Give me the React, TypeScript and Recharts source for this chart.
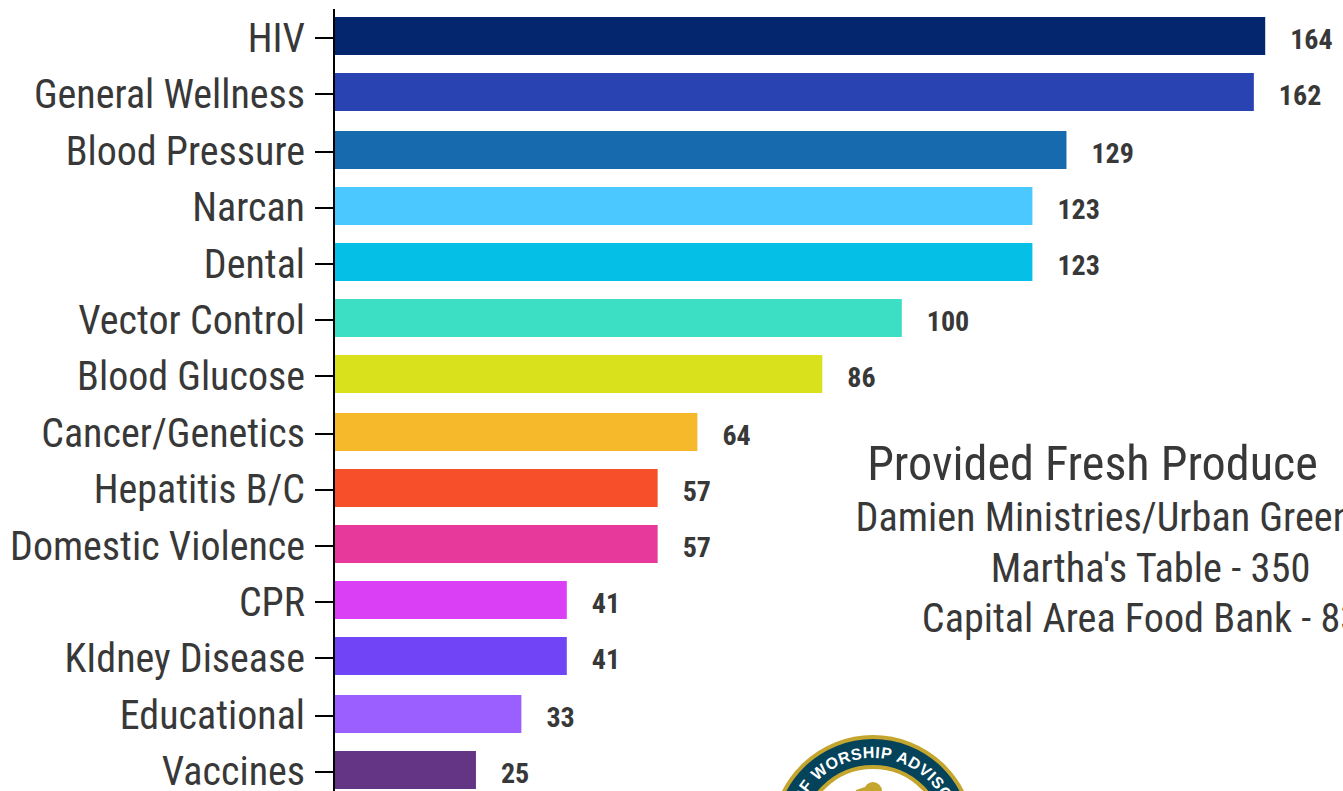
import React from "react";
import { BarChart, Bar, XAxis, YAxis, Cell, LabelList, Rectangle } from "recharts";

const categories = ["HIV","General Wellness","Blood Pressure","Narcan","Dental","Vector Control","Blood Glucose","Cancer/Genetics","Hepatitis B/C","Domestic Violence","CPR","KIdney Disease","Educational","Vaccines"];
const values = [164,162,129,123,123,100,86,64,57,57,41,41,33,25];
const colors = ["#03266e","#2a43b3","#176aae","#4bc8ff","#06bfe6","#3cdfc3","#d8e11c","#f6b92b","#f84f2b","#e6399b","#db3ff5","#7145f5","#9b5fff","#653585"];
const noteTitle = "Provided Fresh Produce";
const noteLines = ["Damien Ministries/Urban Greens","Martha's Table - 350","Capital Area Food Bank - 83"];
const sealText = "OF WORSHIP ADVISORY";
const data = categories.map((name, i) => ({ name, value: values[i] }));

const FONT = "Roboto";
const INK = "#383838";
// the reference sits on a 2px grid
const snap = (y: number) => 2 * Math.round(y / 2);

const Tick = (p: any) => {
  const y = snap(p.y);
  return (
    <g>
      {p.index === 0 && <line x1={334} x2={334} y1={9} y2={12} stroke="#000" strokeWidth={2} />}
      <line x1={315} x2={333} y1={y} y2={y} stroke="#000" strokeWidth={2} />
      <text x={p.x} y={p.y + 13.5} textAnchor="end" fontFamily={FONT} fontSize={40} fill={INK} style={{ fontStretch: "condensed" }}>
        {p.payload.value}
      </text>
    </g>
  );
};

const BarShape = (p: any) => (
  <Rectangle x={p.x + 1} y={snap(p.y + 19) - 21} width={p.width - 1} height={p.height} fill={p.fill} />
);

const Val = (p: any) => (
  <text x={p.x + p.width + 25} y={snap(p.y + p.height / 2) + 11} fontFamily={FONT} fontWeight={700} fontSize={28} fill={INK} style={{ fontStretch: "condensed" }}>
    {p.value}
  </text>
);

export default function App() {
  return (
    <div style={{ position: "absolute", left: 0, top: 0, width: 1343, height: 791, overflow: "hidden", background: "#fff" }}>
      <BarChart width={1343} height={820} data={data} layout="vertical" margin={{ top: 10.3, right: 0, bottom: 20.1, left: 0 }}>
        <XAxis type="number" hide domain={[0, 177.7]} />
        <YAxis type="category" dataKey="name" width={334} interval={0} tick={<Tick />} tickSize={18} tickMargin={11}
          axisLine={{ stroke: "#000", strokeWidth: 2 }} tickLine={false} />
        <Bar dataKey="value" isAnimationActive={false} barSize={38} shape={<BarShape />}>
          {data.map((d, i) => <Cell key={d.name} fill={colors[i]} />)}
          <LabelList dataKey="value" content={<Val />} />
        </Bar>
      </BarChart>
      <svg width={1343} height={791} style={{ position: "absolute", left: 0, top: 0 }}>
        <g fontFamily={FONT} fill={INK} textAnchor="middle" style={{ fontStretch: "condensed" }}>
          <text x={1092.5} y={480} fontSize={48.2}>{noteTitle}</text>
          <text x={1113} y={531} fontSize={40.2}>{noteLines[0]}</text>
          <text x={1150.5} y={582} fontSize={40.4}>{noteLines[1]}</text>
          <text x={1141} y={632} fontSize={40.2}>{noteLines[2]}</text>
        </g>
        <circle cx={873} cy={837} r={100} fill="#04435a" stroke="#c4a52e" strokeWidth={4} />
        <circle cx={873} cy={837} r={70} fill="#fff" stroke="#c4a52e" strokeWidth={4} />
        <circle cx={873} cy={791} r={9} fill="#c4a52e" />
        <path d="M 856 790 L 865 787 L 865 791 L 856 791 Z" fill="#c4a52e" />
        <path id="sealArc" d="M 794 837 A 79 79 0 0 1 952 837" fill="none" />
        <text fontFamily="Liberation Sans" fontWeight={700} fontSize={16} fill="#fff" letterSpacing={0.6}>
          <textPath href="#sealArc" startOffset="54%" textAnchor="middle">{sealText}</textPath>
        </text>
      </svg>
    </div>
  );
}
